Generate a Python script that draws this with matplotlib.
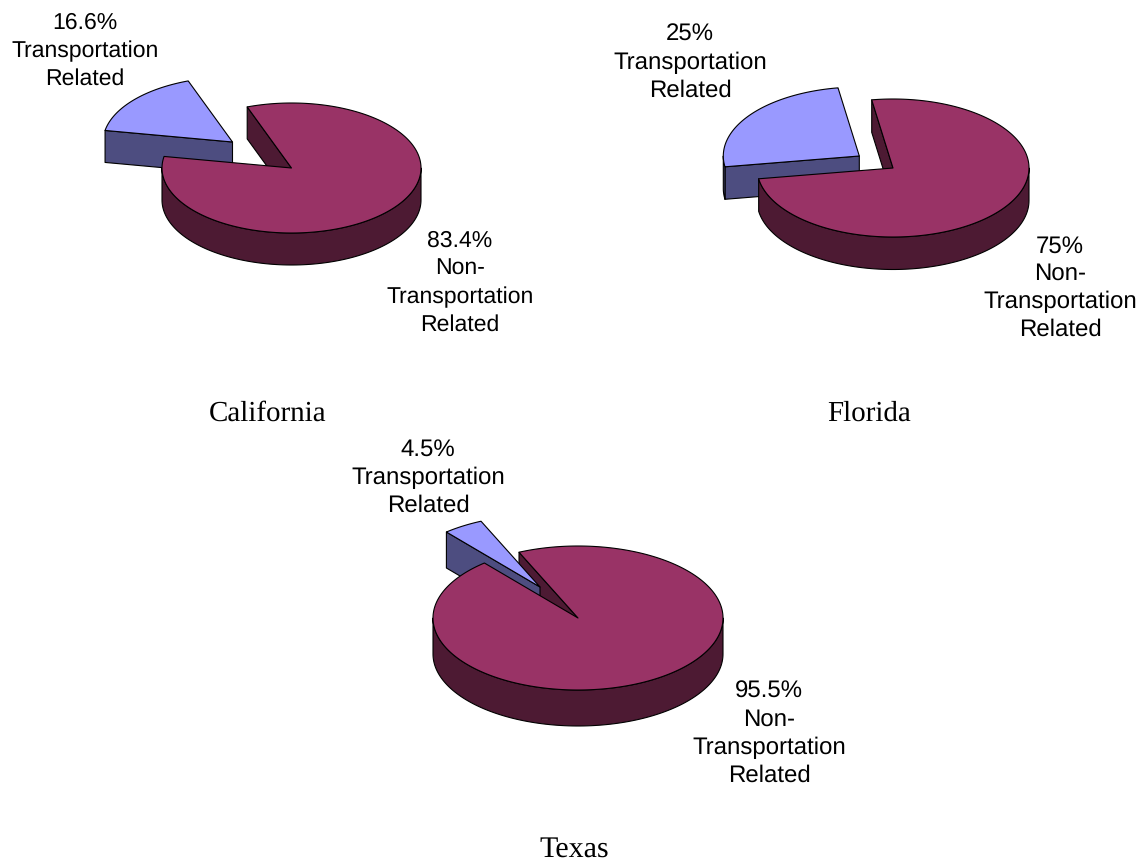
import numpy as np
import matplotlib
matplotlib.use("Agg")
import matplotlib.pyplot as plt
from matplotlib.patches import Polygon

plt.rcParams["text.hinting"] = "no_hinting"
plt.rcParams["text.hinting_factor"] = 1

W, H = 1139, 858

states = ["California", "Florida", "Texas"]
transport_share = [16.6, 25.0, 4.5]
non_transport_share = [83.4, 75.0, 95.5]
transport_text = ["16.6%", "25%", "4.5%"]
non_transport_text = ["83.4%", "75%", "95.5%"]

# layout: centre x, centre y, radius x, radius y, depth, start angle, explode dx, dy
layouts = [
    (291.5, 168.0, 129.5, 65.0, 32.0, 110.0, -59.0, -26.0),
    (893.0, 168.0, 136.0, 69.0, 32.5, 99.0, -33.7, -12.0),
    (578.0, 618.0, 145.0, 72.0, 36.0, 114.0, -38.0, -31.0),
]
title_pos = [(268, 421), (869, 421), (574.5, 856.5)]
title_size = [21.0, 21.0, 21.9]
small_label_pos = [(85, 51), (690, 63), (428, 477.5)]
big_label_pos = [(460, 283), (1060, 288), (769, 733.5)]
label_size = [16.8, 17.4, 17.5]
line_spacing = [1.39, 1.32, 1.32]

TOP_LIGHT, SIDE_LIGHT = "#9999FF", "#4D4D80"
TOP_DARK, SIDE_DARK = "#993366", "#4D1A33"

fig = plt.figure(figsize=(W / 100, H / 100), dpi=100, facecolor="white")
ax = fig.add_axes([0, 0, 1, 1])
ax.set_xlim(0, W)
ax.set_ylim(H, 0)
ax.axis("off")


def wedge3d(cx, cy, rx, ry, depth, t1, t2, top, side, z_face, z_body):
    """Extruded elliptical wedge running counter-clockwise from t1 to t2 (degrees)."""
    kw = dict(edgecolor="black", linewidth=0.8, joinstyle="round")

    def pt(t, dz=0.0):
        r = np.radians(t)
        return cx + rx * np.cos(r), cy - ry * np.sin(r) + dz

    r1, r2 = np.radians(t1), np.radians(t2)
    # flat cut faces, only those turned towards the viewer
    if -np.cos(r1) < 0:
        ax.add_patch(Polygon([(cx, cy), pt(t1), pt(t1, depth), (cx, cy + depth)],
                             closed=True, facecolor=side, zorder=z_face, **kw))
    if np.cos(r2) < 0:
        ax.add_patch(Polygon([(cx, cy), pt(t2), pt(t2, depth), (cx, cy + depth)],
                             closed=True, facecolor=side, zorder=z_face, **kw))
    # outer wall on the front half of the ellipse
    for k in (0, 1):
        a = max(t1, 180 + 360 * k)
        b = min(t2, 360 + 360 * k)
        if b > a:
            ts = np.linspace(a, b, 120)
            upper = [pt(t) for t in ts]
            lower = [pt(t, depth) for t in ts[::-1]]
            ax.add_patch(Polygon(upper + lower, closed=True, facecolor=side,
                                 zorder=z_body, **kw))
    # top surface
    ts = np.linspace(t1, t2, 300)
    ax.add_patch(Polygon([(cx, cy)] + [pt(t) for t in ts], closed=True,
                         facecolor=top, zorder=z_body + 0.1, **kw))


for i, state in enumerate(states):
    cx, cy, rx, ry, depth, start, ox, oy = layouts[i]
    span = 360.0 * transport_share[i] / (transport_share[i] + non_transport_share[i])
    # order: big wedge's cut face, then the exploded wedge, then the big wedge's body
    wedge3d(cx + ox, cy + oy, rx, ry, depth, start, start + span,
            TOP_LIGHT, SIDE_LIGHT, 2.0, 2.1)
    wedge3d(cx, cy, rx, ry, depth, start + span, start + 360.0,
            TOP_DARK, SIDE_DARK, 1.0, 3.0)

    fs = label_size[i]
    ax.text(*title_pos[i], state, family="Liberation Serif", fontsize=title_size[i],
            ha="center", va="baseline", color="black")
    ax.text(*small_label_pos[i], f"{transport_text[i]}\nTransportation\nRelated",
            family="Liberation Sans", fontsize=fs, ha="center", va="center",
            linespacing=line_spacing[i], color="black", zorder=5)
    ax.text(*big_label_pos[i], f"{non_transport_text[i]}\nNon-\nTransportation\nRelated",
            family="Liberation Sans", fontsize=fs, ha="center", va="center",
            linespacing=line_spacing[i], color="black", zorder=5)

fig.savefig("out.png", dpi=100, facecolor="white")
